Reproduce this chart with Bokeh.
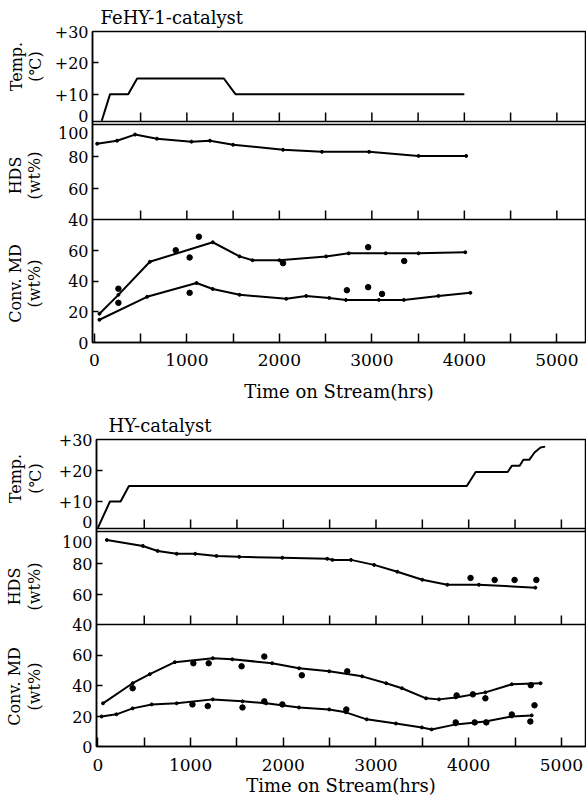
from math import pi
from bokeh.plotting import figure
from bokeh.layouts import column, row
from bokeh.models import Range1d, FixedTicker, Span
from bokeh.core.properties import value
from bokeh.embed import file_html
from bokeh.resources import INLINE

FONT = "DejaVu Serif"

# ---------------- data: FeHY-1-catalyst ----------------
fe_temp_t = [80, 170, 366, 463, 1400, 1525, 4000]
fe_temp_v = [1.5, 10, 10, 15, 15, 10, 10]

fe_hds_t = [30, 245, 440, 677, 1050, 1250, 1500, 2040, 2460, 2970, 3505, 4020]
fe_hds_v = [88.4, 90.3, 94.2, 91.6, 89.7, 90.3, 87.7, 84.5, 83.2, 83.2, 80.6, 80.6]

fe_md_hi_t = [55, 260, 600, 1280, 1570, 1710, 2000, 2505, 2750, 3150, 3505, 4010]
fe_md_hi_v = [18.7, 31, 52.5, 65.2, 56, 53.5, 53.5, 56, 58, 58, 58, 58.7]
fe_md_hi_pt_t = [260, 880, 1030, 1130, 2040, 2960, 3350]
fe_md_hi_pt_v = [35, 60, 55.3, 68.8, 51.6, 62, 53]

fe_md_lo_t = [55, 570, 1105, 1280, 1570, 2075, 2290, 2540, 2720, 3075, 3345, 3720, 4065]
fe_md_lo_v = [14.8, 29.7, 38.7, 34.8, 31, 28.4, 30.3, 29, 27.7, 27.7, 27.7, 30.3, 32.3]
fe_md_lo_pt_t = [260, 1030, 2730, 2960, 3110]
fe_md_lo_pt_v = [25.8, 32.3, 34, 36, 31.6]

# ---------------- data: HY-catalyst ----------------
hy_temp_t = [0, 130, 245, 335, 3980, 4075, 4420, 4465, 4550, 4590, 4655, 4710, 4775, 4825]
hy_temp_v = [1.5, 10, 10, 15, 15, 19.5, 19.5, 21.5, 21.5, 23.5, 23.5, 25.8, 27.4, 27.7]

hy_hds_t = [97, 485, 645, 850, 1050, 1280, 1525, 1990, 2475, 2530, 2730, 2980, 3230, 3500, 3770, 4110, 4720]
hy_hds_v = [95.7, 91.8, 88.5, 86.6, 86.6, 85.2, 84.6, 84, 83.3, 82.6, 82.6, 79.3, 74.8, 69.5, 66.2, 66.2, 64.3]
hy_hds_pt_t = [4020, 4280, 4495, 4730]
hy_hds_pt_v = [70.7, 69.4, 69.4, 69.4]

hy_md_hi_t = [55, 375, 560, 830, 1240, 1450, 1880, 2170, 2495, 2850, 3110, 3280, 3540, 3680, 3860, 4180, 4465, 4775]
hy_md_hi_v = [28.3, 41.5, 47.4, 55.3, 57.9, 57.2, 54.6, 51.3, 49.3, 46, 41.5, 38.2, 31.6, 30.9, 32.2, 35.5, 40.8, 41.5]
hy_md_hi_pt_t = [375, 1030, 1195, 1550, 1795, 2200, 2690, 3870, 4045, 4180, 4670]
hy_md_hi_pt_v = [38.2, 54.6, 54.6, 52.6, 59, 46.7, 49.3, 33.5, 34.2, 31.6, 40.2]

hy_md_lo_t = [40, 200, 375, 580, 850, 1240, 1560, 1815, 2170, 2495, 2675, 2900, 3215, 3495, 3600, 3860, 4180, 4465, 4680]
hy_md_lo_v = [19.7, 21.1, 25, 27.6, 28.3, 30.9, 29.6, 28.3, 25.6, 24.3, 22.4, 17.8, 15.1, 12.5, 11.2, 14.5, 16.4, 19.7, 20.4]
hy_md_lo_pt_t = [1020, 1185, 1560, 1795, 1990, 2680, 3860, 4065, 4190, 4465, 4665, 4710]
hy_md_lo_pt_v = [27.6, 26.5, 25.6, 29.6, 27.6, 24.3, 15.8, 15.8, 15.8, 21, 16.4, 27]

# ---------------- ticks / labels ----------------
x_major = [0, 1000, 2000, 3000, 4000, 5000]
x_minor = [500, 1500, 2500, 3500, 4500]
x_inner = [500, 1000, 1500, 2000, 2500, 3000, 3500, 4000, 4500, 5000]
temp_ticks = [0, 10, 20, 30]
temp_labels = ["0", "+10", "+20", "+30"]
hds_ticks = [40, 60, 80, 100]
md_ticks = [0, 20, 40, 60]
y_titles = ["Temp.", "(\u2103)", "HDS", "(wt%)", "Conv. MD", "(wt%)"]

W = 586          # total width of each panel row
LABW = 46        # width of the strip holding the rotated y titles
RIGHT = 1


def band_range(v0, v1, p0, p1, H):
    r = (p1 - p0) / (v1 - v0)
    start = v0 - p0 / r
    return Range1d(start, start + H / r)


def to_px(v, band):
    v0, v1, p0, p1 = band
    return p0 + (v - v0) * (p1 - p0) / (v1 - v0)


def make_panel(title, x0, x_per_px, left, top, bottom, H, bands, sep, dbl, nudges,
               lab_x, lab_y, title_off, title_std, xstd, xlabstd,
               temp, hds, hds_pt, hi, hi_pt, lo, lo_pt):
    fw = W - left - RIGHT
    xr = Range1d(x0, x0 + fw * x_per_px)

    lab = figure(frame_width=LABW, frame_height=H, x_range=Range1d(0, LABW),
                 y_range=Range1d(0, H), output_backend="svg", toolbar_location=None,
                 x_axis_location=None, y_axis_location=None, title=None,
                 min_border_left=0, min_border_right=0,
                 min_border_top=top, min_border_bottom=0)
    lab.grid.visible = False
    lab.outline_line_color = None
    lab.background_fill_color = "white"
    lab.border_fill_color = "white"
    lab.text(x=lab_x, y=lab_y, text=y_titles, angle=pi / 2, text_align="center",
             text_baseline="middle", text_font=value(FONT), text_font_size="16px",
             text_color="black")

    p = figure(frame_width=fw, frame_height=H, x_range=xr,
               y_range=Range1d(0, H), output_backend="svg", toolbar_location=None,
               min_border_left=left - LABW, min_border_right=RIGHT,
               min_border_top=top, min_border_bottom=bottom)
    p.extra_y_ranges = {k: band_range(*bands[k], H) for k in bands}
    p.grid.visible = False
    p.outline_line_color = "black"
    p.outline_line_width = 1.5
    p.background_fill_color = "white"
    p.border_fill_color = "white"

    p.title.text = title
    p.title.align = "left"
    p.title.offset = title_off
    p.title.standoff = title_std
    p.title.text_font = FONT
    p.title.text_font_size = "18px"
    p.title.text_font_style = "normal"
    p.title.text_color = "black"

    xa = p.xaxis[0]
    xa.ticker = FixedTicker(ticks=x_major, minor_ticks=x_minor)
    xa.axis_line_width = 1.5
    xa.major_tick_in = 9
    xa.major_tick_out = 0
    xa.minor_tick_in = 9
    xa.minor_tick_out = 0
    xa.major_tick_line_width = 1.5
    xa.minor_tick_line_width = 1.5
    xa.minor_tick_line_color = "black"
    xa.major_label_text_font = FONT
    xa.major_label_text_font_size = "17px"
    xa.major_label_text_color = "black"
    xa.major_label_standoff = xstd
    xa.axis_label = "Time on Stream(hrs)"
    xa.axis_label_text_font = FONT
    xa.axis_label_text_font_size = "18px"
    xa.axis_label_text_font_style = "normal"
    xa.axis_label_text_color = "black"
    xa.axis_label_standoff = xlabstd

    # y axis: labels as major ticks (no marks), tick marks as minor ticks
    lab_pos, lab_txt, marks = [], {}, []
    for key, vals, txts in (("temp", temp_ticks, temp_labels),
                            ("hds", hds_ticks, [str(v) for v in hds_ticks]),
                            ("md", md_ticks, [str(v) for v in md_ticks])):
        b = bands[key]
        for v, t in zip(vals, txts):
            px = int(round(to_px(v, b) + nudges.get((key, v), 0)))
            lab_pos.append(px)
            lab_txt[px] = t
            if b[0] < v < b[1]:
                marks.append(round(to_px(v, b), 2))
    ya = p.yaxis[0]
    ya.ticker = FixedTicker(ticks=sorted(lab_pos), minor_ticks=marks)
    ya.major_label_overrides = lab_txt
    ya.axis_line_width = 1.5
    ya.major_tick_in = 0
    ya.major_tick_out = 0
    ya.minor_tick_in = 6
    ya.minor_tick_out = 0
    ya.minor_tick_line_width = 1.5
    ya.minor_tick_line_color = "black"
    ya.major_label_standoff = 4
    ya.major_label_text_font = FONT
    ya.major_label_text_font_size = "16px"
    ya.major_label_text_color = "black"

    for loc in [sep] + dbl:
        p.add_layout(Span(location=loc, dimension="width", line_color="black", line_width=1.5))
    for yb in (dbl[1], sep):
        p.ray(x=x_inner, y=yb, length=9, length_units="screen", angle=90,
              angle_units="deg", line_color="black", line_width=1.5)

    p.line(temp[0], temp[1], y_range_name="temp", line_width=2, color="black")
    p.line(hds[0], hds[1], y_range_name="hds", line_width=2, color="black")
    p.scatter(hds[0], hds[1], y_range_name="hds", size=3, color="black")
    if hds_pt is not None:
        p.scatter(hds_pt[0], hds_pt[1], y_range_name="hds", size=5.5, color="black")
    for ln, pt in ((hi, hi_pt), (lo, lo_pt)):
        p.line(ln[0], ln[1], y_range_name="md", line_width=2, color="black")
        p.scatter(ln[0], ln[1], y_range_name="md", size=3, color="black")
        p.scatter(pt[0], pt[1], y_range_name="md", size=5.5, color="black")
    return row(lab, p, spacing=0)


p1 = make_panel(
    "FeHY-1-catalyst", -20, 1000 / 92.5, 92, 26, 60, 311,
    {"temp": (0, 30, 217, 311), "hds": (40, 100, 123, 217), "md": (0, 80, 0, 123)},
    123, [218, 221], {("temp", 0): 10, ("hds", 100): -7},
    [15.5, 35, 15, 34, 15, 34], [276, 276, 167, 167, 59, 59], 8, 8, 11, 12,
    (fe_temp_t, fe_temp_v), (fe_hds_t, fe_hds_v), None,
    (fe_md_hi_t, fe_md_hi_v), (fe_md_hi_pt_t, fe_md_hi_pt_v),
    (fe_md_lo_t, fe_md_lo_v), (fe_md_lo_pt_t, fe_md_lo_pt_v))

p2 = make_panel(
    "HY-catalyst", -15, 1000 / 92.7, 96, 35, 50, 307,
    {"temp": (0, 30, 214, 307), "hds": (40, 100, 122, 213), "md": (0, 80, 0, 122)},
    122, [215, 218], {("temp", 0): 11, ("hds", 100): -8},
    [15, 35, 14, 34, 14, 34], [268, 268, 160, 160, 60, 60], 12, 7, 12, 1,
    (hy_temp_t, hy_temp_v), (hy_hds_t, hy_hds_v), (hy_hds_pt_t, hy_hds_pt_v),
    (hy_md_hi_t, hy_md_hi_v), (hy_md_hi_pt_t, hy_md_hi_pt_v),
    (hy_md_lo_t, hy_md_lo_v), (hy_md_lo_pt_t, hy_md_lo_pt_v))

layout = column(p1, p2, spacing=0)
open("out.html", "w").write(file_html(layout, INLINE))
